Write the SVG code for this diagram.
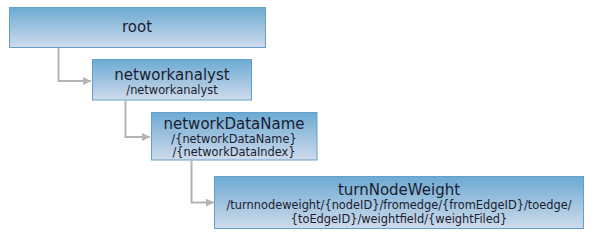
<svg xmlns="http://www.w3.org/2000/svg" width="596" height="232" viewBox="0 0 596 232">
<defs>
<linearGradient id="g" x1="0" y1="0" x2="0" y2="1">
<stop offset="0" stop-color="#6caad3"/>
<stop offset="1" stop-color="#cfdbeb"/>
</linearGradient>
<marker id="arr" viewBox="0 0 10 10" refX="10" refY="5" markerWidth="4" markerHeight="4" orient="auto" markerUnits="strokeWidth">
<path d="M0,0 L10,5 L0,10 z" fill="#b4b4b4"/>
</marker>
<style>
.box{fill:url(#g);stroke:#65a0cb;stroke-width:1}
.t{font-family:"DejaVu Sans",Verdana,sans-serif;font-size:15px;fill:#1c1c30;text-anchor:middle}
.s{font-family:"DejaVu Sans",Verdana,sans-serif;font-size:11.4px;fill:#1c1c30;text-anchor:middle}
.c{fill:none;stroke:#b4b4b4;stroke-width:2}
</style>
</defs>
<g id="connectors">
<path class="c" d="M58.5,48 V81 H91" marker-end="url(#arr)"/>
<path class="c" d="M125.5,100.5 V137 H150" marker-end="url(#arr)"/>
<path class="c" d="M191.5,160.5 V202.5 H214" marker-end="url(#arr)"/>
</g>
<g id="root">
<rect class="box" x="9.5" y="7.5" width="256" height="40"/>
<text class="t" x="137" y="31.5">root</text>
</g>
<g id="networkanalyst">
<rect class="box" x="92.5" y="59.5" width="159" height="40.5"/>
<text class="t" x="172" y="79.5">networkanalyst</text>
<text class="s" x="172" y="93.5">/networkanalyst</text>
</g>
<g id="networkDataName">
<rect class="box" x="151.5" y="112.5" width="165.5" height="47.5"/>
<text class="t" x="234" y="128.5">networkDataName</text>
<text class="s" x="234" y="142.5">/{networkDataName}</text>
<text class="s" x="234" y="155.5">/{networkDataIndex}</text>
</g>
<g id="turnNodeWeight">
<rect class="box" x="214.5" y="176.5" width="369" height="52"/>
<text class="t" x="399" y="194.5">turnNodeWeight</text>
<text class="s" x="399" y="209">/turnnodeweight/{nodeID}/fromedge/{fromEdgeID}/toedge/</text>
<text class="s" x="399" y="222.5">{toEdgeID}/weightfield/{weightFiled}</text>
</g>
</svg>
